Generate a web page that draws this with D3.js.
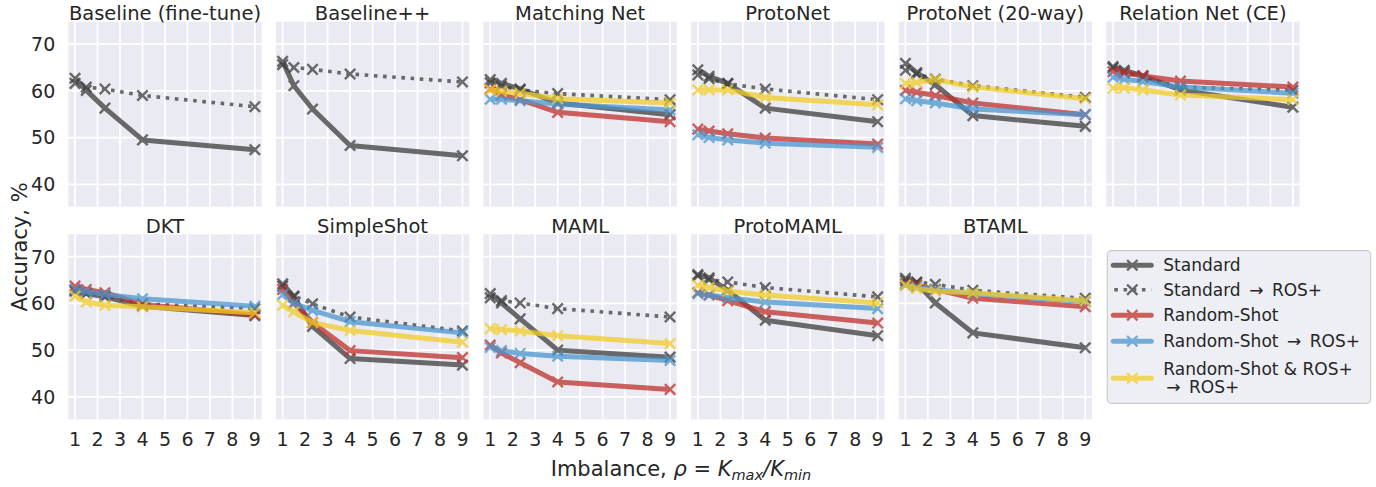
<!DOCTYPE html>
<html><head><meta charset="utf-8">
<script src="https://cdn.jsdelivr.net/npm/d3@7"></script>
<style>
body{margin:0;background:#fff}
text{font-family:"DejaVu Sans",sans-serif;fill:#262626}
</style>
</head><body>
<svg id="c" width="1376" height="487"></svg>
<script>
// ---- data ----
const xValues = [1, 1.5, 2.33, 4, 9];
const xTicks = [1, 2, 3, 4, 5, 6, 7, 8, 9];
const yTicks = [40, 50, 60, 70];
const methods = ["Baseline (fine-tune)", "Baseline++", "Matching Net", "ProtoNet", "ProtoNet (20-way)", "Relation Net (CE)",
                 "DKT", "SimpleShot", "MAML", "ProtoMAML", "BTAML"];
const seriesNames = ["Standard", "Standard\u2002\u2192\u2002ROS+", "Random-Shot", "Random-Shot\u2002\u2192\u2002ROS+", "Random-Shot & ROS+|\u2192\u2002ROS+"];
const standard = [
  [62.7, 60.1, 56.3, 49.5, 47.4],
  [66.3, 61.1, 56.1, 48.3, 46.1],
  [62.4, 61.6, 60.4, 57.4, 54.9],
  [64.5, 63.1, 61.6, 56.3, 53.4],
  [65.9, 63.9, 61.3, 54.7, 52.4],
  [65.2, 64.4, 63.2, 60.2, 56.5],
  [62.6, 62.1, 61.4, 59.4, 57.4],
  [64.2, 61.4, 55.1, 48.2, 46.8],
  [62.1, 60.1, 56.7, 50.0, 48.5],
  [66.2, 65.5, 62.8, 56.4, 53.1],
  [65.4, 64.4, 60.1, 53.7, 50.5]
];
const standardROS = [
  [61.6, 60.8, 60.4, 59.0, 56.6],
  [65.6, 65.0, 64.6, 63.6, 61.9],
  [61.7, 61.0, 60.2, 59.4, 58.1],
  [63.4, 62.6, 61.5, 60.4, 58.1],
  [64.4, 63.6, 62.5, 61.1, 58.6],
  [64.9, 64.0, 62.9, 60.8, 60.1],
  [62.9, 62.3, 61.7, 59.9, 58.9],
  [63.7, 61.6, 59.9, 57.1, 54.1],
  [61.2, 60.6, 60.1, 58.9, 57.1],
  [65.9, 65.1, 64.6, 63.4, 61.4],
  [64.9, 64.6, 64.1, 62.8, 61.1]
];
const randomShot = [
  null, null,
  [60.4, 59.1, 58.1, 55.4, 53.4],
  [51.8, 51.4, 50.8, 49.9, 48.6],
  [60.1, 59.7, 59.0, 57.4, 54.9],
  [64.1, 63.8, 63.2, 62.1, 60.8],
  [63.7, 63.0, 62.3, 59.8, 57.6],
  [63.0, 60.1, 55.9, 49.9, 48.4],
  [51.1, 49.4, 47.3, 43.2, 41.6],
  [62.3, 61.8, 60.6, 58.2, 55.8],
  [64.2, 63.9, 63.0, 61.1, 59.3]
];
const randomShotROS = [
  null, null,
  [58.2, 58.2, 57.9, 57.2, 55.9],
  [50.6, 50.0, 49.5, 48.8, 47.9],
  [58.3, 57.9, 57.4, 56.1, 54.9],
  [62.9, 62.5, 62.0, 60.8, 59.5],
  [63.0, 62.5, 61.9, 61.0, 59.4],
  [61.9, 60.0, 58.5, 56.1, 53.7],
  [50.6, 49.9, 49.3, 48.7, 47.8],
  [62.1, 61.8, 61.2, 60.3, 58.9],
  [63.9, 63.5, 63.0, 62.1, 60.4]
];
const randomShotROSROS = [
  null, null,
  [60.2, 59.9, 59.5, 58.3, 57.4],
  [60.2, 60.2, 60.2, 58.6, 57.0],
  [61.6, 61.8, 62.4, 60.8, 58.3],
  [60.6, 60.6, 60.2, 59.1, 58.1],
  [61.6, 60.3, 59.6, 59.3, 58.0],
  [59.6, 58.2, 55.9, 54.2, 51.7],
  [54.6, 54.4, 54.1, 53.1, 51.4],
  [63.9, 63.4, 62.6, 61.8, 60.1],
  [63.9, 63.2, 62.6, 62.3, 60.6]
];

// ---- styles ----
const seriesData = [standard, standardROS, randomShot, randomShotROS, randomShotROSROS];
const seriesColor = ["#3d3d3d", "#3d3d3d", "#c0302b", "#4a97cf", "#f1cd27"];
const seriesDotted = [false, true, false, false, false];

const svg = d3.select("#c");
const W = 193.3, H = 185;
const colStep = 207.6, left0 = 68.3;
const rowTop = [21.7, 234.3];
const x = d3.scaleLinear().domain([0.7, 9.3]).range([0, W]);
const y = d3.scaleLinear().domain([35.2, 74.8]).range([H, 0]);
const line = d3.line().x((d, i) => x(xValues[i])).y(d => y(d));

function drawMarkers(g, cx, cy, color) {
  const s = 5.2;
  g.append("path")
    .attr("d", `M${cx - s},${cy - s}L${cx + s},${cy + s}M${cx - s},${cy + s}L${cx + s},${cy - s}`)
    .attr("stroke", color).attr("stroke-width", 2.4).attr("fill", "none");
}

methods.forEach((m, p) => {
  const row = p < 6 ? 0 : 1, col = p < 6 ? p : p - 6;
  const g = svg.append("g").attr("transform", `translate(${left0 + col * colStep},${rowTop[row]})`);
  g.append("rect").attr("width", W).attr("height", H).attr("fill", "#eaeaf2");
  g.selectAll(".gx").data(xTicks).enter().append("line")
    .attr("x1", d => x(d)).attr("x2", d => x(d)).attr("y1", 0).attr("y2", H)
    .attr("stroke", "#fff").attr("stroke-width", 1.7);
  g.selectAll(".gy").data(yTicks).enter().append("line")
    .attr("y1", d => y(d)).attr("y2", d => y(d)).attr("x1", 0).attr("x2", W)
    .attr("stroke", "#fff").attr("stroke-width", 1.7);
  g.append("text").attr("x", W / 2).attr("y", -1.5).attr("text-anchor", "middle")
    .attr("font-size", 19.5).text(m);
  if (col === 0) {
    g.selectAll(".ty").data(yTicks).enter().append("text")
      .attr("x", -13).attr("y", d => y(d)).attr("dy", "0.36em").attr("text-anchor", "end")
      .attr("font-size", 19).text(d => d);
  }
  if (row === 1) {
    g.selectAll(".tx").data(xTicks).enter().append("text")
      .attr("x", d => x(d)).attr("y", H + 26.5).attr("text-anchor", "middle")
      .attr("font-size", 19).text(d => d);
  }
  seriesData.forEach((sd, s) => {
    const vals = sd[p];
    if (!vals) return;
    const sg = g.append("g").attr("opacity", 0.75);
    if (seriesDotted[s]) {
      sg.append("path").attr("d", line(vals)).attr("fill", "none")
        .attr("stroke", seriesColor[s]).attr("stroke-width", 3.6)
        .attr("stroke-dasharray", "3.6,5.6");
    } else {
      sg.append("path").attr("d", line(vals)).attr("fill", "none")
        .attr("stroke", seriesColor[s]).attr("stroke-width", 5).attr("stroke-linejoin", "round");
    }
    vals.forEach((v, i) => drawMarkers(sg, x(xValues[i]), y(v), seriesColor[s]));
  });
});

// axis labels
svg.append("text").attr("transform", "translate(27,247) rotate(-90)").attr("text-anchor", "middle")
  .attr("font-size", 21).text("Accuracy, %");
const xl = svg.append("text").attr("x", 681).attr("y", 476).attr("text-anchor", "middle").attr("font-size", 21);
xl.append("tspan").text("Imbalance, ");
xl.append("tspan").attr("font-style", "italic").text("\u03c1");
xl.append("tspan").text(" = ");
xl.append("tspan").attr("font-style", "italic").text("K");
xl.append("tspan").attr("font-style", "italic").attr("font-size", 14.5).attr("dy", 4).text("max");
xl.append("tspan").attr("font-style", "italic").attr("dy", -4).text("/K");
xl.append("tspan").attr("font-style", "italic").attr("font-size", 14.5).attr("dy", 4).text("min");

// legend
const lg = svg.append("g").attr("transform", "translate(1107.3,250.7)");
lg.append("rect").attr("width", 263.4).attr("height", 152.6).attr("rx", 4)
  .attr("fill", "#eeeef5").attr("stroke", "#cccccc").attr("stroke-width", 1.2);
const rowY = [14.5, 39, 64.5, 90.5, 127.5];
seriesNames.forEach((name, s) => {
  const cy = rowY[s];
  const eg = lg.append("g").attr("opacity", 0.75);
  if (seriesDotted[s]) {
    eg.append("line").attr("x1", 6).attr("x2", 44).attr("y1", cy).attr("y2", cy)
      .attr("stroke", seriesColor[s]).attr("stroke-width", 3.6).attr("stroke-dasharray", "3.6,5.6")
      .attr("stroke-dashoffset", -1);
  } else {
    eg.append("line").attr("x1", 6).attr("x2", 44).attr("y1", cy).attr("y2", cy)
      .attr("stroke", seriesColor[s]).attr("stroke-width", 5).attr("stroke-linecap", "round");
  }
  drawMarkers(eg, 25, cy, seriesColor[s]);
  const parts = name.split("|");
  if (parts.length === 1) {
    lg.append("text").attr("x", 56).attr("y", cy).attr("dy", "0.36em").attr("font-size", 17).text(name);
  } else {
    lg.append("text").attr("x", 56).attr("y", cy - 9.5).attr("dy", "0.36em").attr("font-size", 17).text(parts[0]);
    lg.append("text").attr("x", 59).attr("y", cy + 8.5).attr("dy", "0.36em").attr("font-size", 17).text(parts[1]);
  }
});
</script>
</body></html>
